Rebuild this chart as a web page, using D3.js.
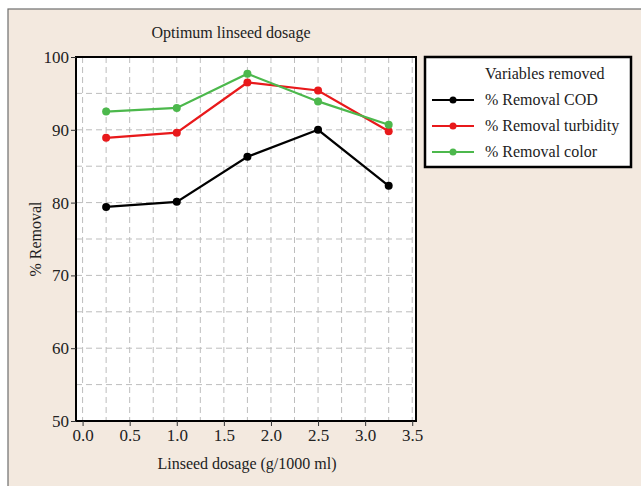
<!DOCTYPE html>
<html>
<head>
<meta charset="utf-8">
<script src="https://cdn.jsdelivr.net/npm/d3@7"></script>
<style>
  body { margin: 0; background: #fff; }
  text { font-family: "Liberation Serif", "DejaVu Serif", serif; fill: #222; }
</style>
</head>
<body>
<div id="chart"></div>
<script>
var dosage = [0.25, 1.0, 1.75, 2.5, 3.25],
  cod = [79.4, 80.1, 86.3, 90.0, 82.3],
  turbidity = [88.9, 89.6, 96.5, 95.4, 89.8],
  color = [92.5, 93.0, 97.7, 93.9, 90.7],
  seriesNames = ["% Removal COD", "% Removal turbidity", "% Removal color"],
  seriesColors = ["#000000", "#e8191b", "#4cb84c"],
  xTicks = [0, 0.5, 1, 1.5, 2, 2.5, 3, 3.5],
  yTicks = [50, 60, 70, 80, 90, 100];

var W = 641, H = 486;
var plot = { left: 76, top: 57, right: 416, bottom: 421 };

var svg = d3.select("#chart").append("svg")
  .attr("width", W).attr("height", H);

// beige panel
svg.append("rect").attr("x", 8).attr("y", 9).attr("width", W).attr("height", H)
  .attr("fill", "#f3e9df").attr("stroke", "#6e6e6e").attr("stroke-width", 1.2);

var x = d3.scaleLinear().domain([-0.07, 3.54]).range([plot.left, plot.right]);
var y = d3.scaleLinear().domain([50, 100]).range([plot.bottom, plot.top]);

svg.append("rect")
  .attr("x", plot.left).attr("y", plot.top)
  .attr("width", plot.right - plot.left).attr("height", plot.bottom - plot.top)
  .attr("fill", "#fff");

// dashed grid
var gx = d3.range(0, 3.51, 0.25), gy = d3.range(55, 100, 5);
svg.append("g").selectAll("line").data(gx).enter().append("line")
  .attr("x1", d => x(d)).attr("x2", d => x(d))
  .attr("y1", plot.top).attr("y2", plot.bottom)
  .attr("stroke", "#bdbdbd").attr("stroke-dasharray", "6,4");
svg.append("g").selectAll("line").data(gy).enter().append("line")
  .attr("x1", plot.left).attr("x2", plot.right)
  .attr("y1", d => y(d)).attr("y2", d => y(d))
  .attr("stroke", "#bdbdbd").attr("stroke-dasharray", "6,4");

svg.append("rect")
  .attr("x", plot.left).attr("y", plot.top)
  .attr("width", plot.right - plot.left).attr("height", plot.bottom - plot.top)
  .attr("fill", "none").attr("stroke", "#000").attr("stroke-width", 2);

// axes
var xAxis = svg.append("g").attr("transform", "translate(0," + plot.bottom + ")")
  .call(d3.axisBottom(x).tickValues(xTicks).tickFormat(d3.format(".1f")).tickSize(5).tickPadding(3));
var yAxis = svg.append("g").attr("transform", "translate(" + plot.left + ",0)")
  .call(d3.axisLeft(y).tickValues(yTicks).tickSize(5).tickPadding(2));
[xAxis, yAxis].forEach(function (a) {
  a.attr("font-size", null).attr("font-family", null);
  a.select(".domain").remove();
  a.selectAll("text").style("font-size", "17px").attr("fill", "#222");
  a.selectAll("line").attr("stroke", "#333");
});

// lines
var allSeries = [cod, turbidity, color];
var line = d3.line().x((d, i) => x(dosage[i])).y(d => y(d));
allSeries.forEach(function (s, k) {
  svg.append("path").datum(s).attr("d", line)
    .attr("fill", "none").attr("stroke", seriesColors[k]).attr("stroke-width", 2.2);
  svg.append("g").selectAll("circle").data(s).enter().append("circle")
    .attr("cx", (d, i) => x(dosage[i])).attr("cy", d => y(d)).attr("r", 4)
    .attr("fill", seriesColors[k]);
});

// titles
svg.append("text").attr("x", 231).attr("y", 38).attr("text-anchor", "middle")
  .style("font-size", "16px").text("Optimum linseed dosage");
svg.append("text").attr("x", 247).attr("y", 469).attr("text-anchor", "middle")
  .style("font-size", "16px").text("Linseed dosage (g/1000 ml)");
svg.append("text").attr("transform", "translate(41,239) rotate(-90)").attr("text-anchor", "middle")
  .style("font-size", "16px").text("% Removal");

// legend
var lg = svg.append("g").attr("transform", "translate(425,57)");
lg.append("rect").attr("width", 206).attr("height", 110)
  .attr("fill", "#fff").attr("stroke", "#000").attr("stroke-width", 2.5);
lg.append("text").attr("x", 60).attr("y", 22).style("font-size", "16px").text("Variables removed");
var items = lg.selectAll(".legend").data(seriesNames).enter().append("g")
  .attr("class", "legend")
  .attr("transform", (d, i) => "translate(0," + (48 + i * 26) + ")");
items.append("line").attr("x1", 7).attr("x2", 49).attr("y1", -5).attr("y2", -5)
  .attr("stroke", (d, i) => seriesColors[i]).attr("stroke-width", 2.2);
items.append("circle").attr("cx", 28).attr("cy", -5).attr("r", 3.5)
  .attr("fill", (d, i) => seriesColors[i]);
items.append("text").attr("x", 60).attr("y", 0).style("font-size", "16px").text(d => d);
</script>
</body>
</html>
